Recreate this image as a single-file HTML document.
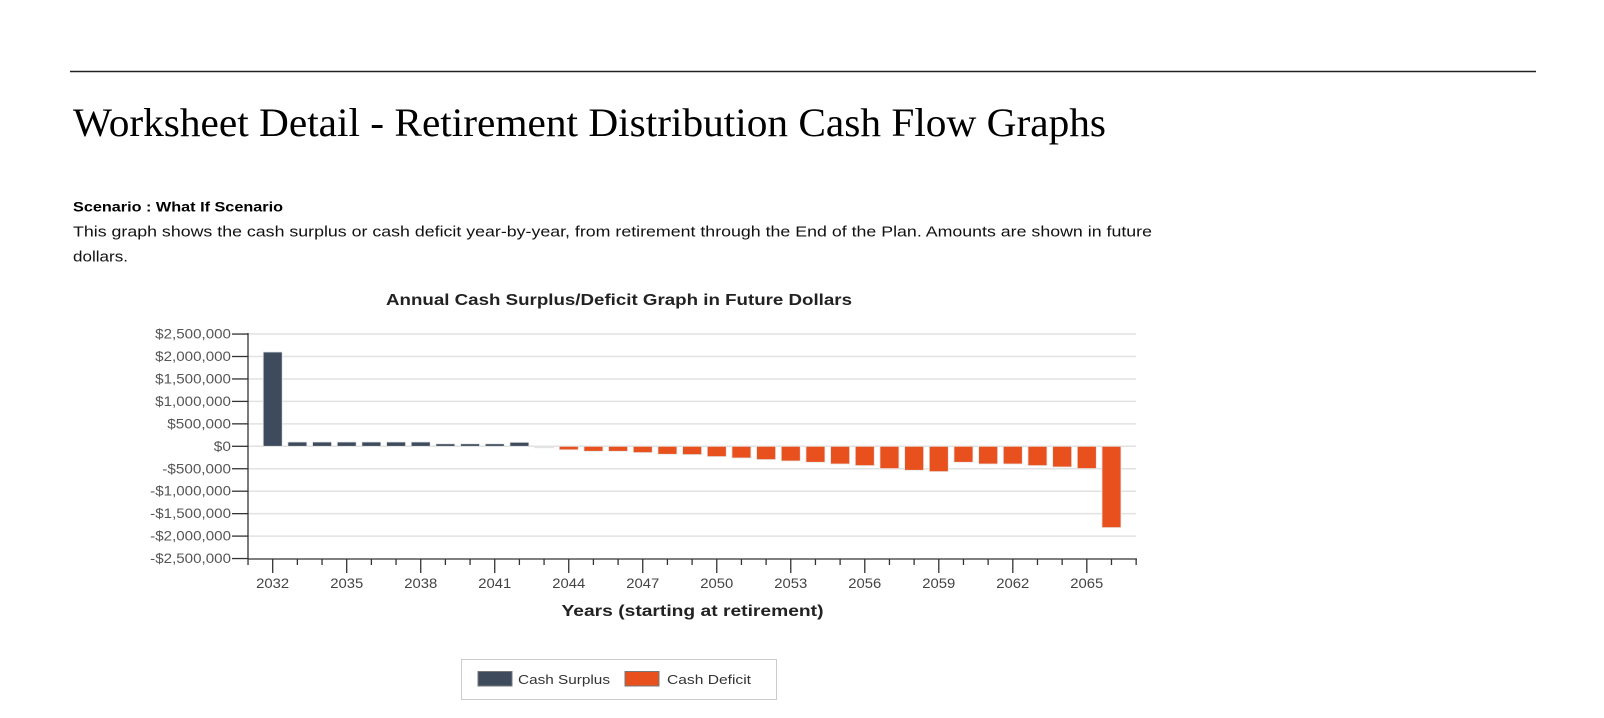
<!DOCTYPE html>
<html><head><meta charset="utf-8"><style>
html,body{margin:0;padding:0;background:#fff;}
svg{display:block;}
text{font-family:"Liberation Sans",sans-serif;}
</style></head><body>
<svg width="1604" height="718" viewBox="0 0 1604 718" xmlns="http://www.w3.org/2000/svg">
<line x1="70" y1="71.5" x2="1536" y2="71.5" stroke="#222" stroke-width="1.5"/>
<text x="73" y="136" style="font-family:'Liberation Serif',serif" font-size="40" fill="#000" textLength="1033" lengthAdjust="spacingAndGlyphs">Worksheet Detail - Retirement Distribution Cash Flow Graphs</text>
<text x="73" y="211.5" font-size="14" font-weight="bold" fill="#000" textLength="210" lengthAdjust="spacingAndGlyphs">Scenario : What If Scenario</text>
<text x="73" y="236.5" font-size="15" fill="#111" textLength="1079" lengthAdjust="spacingAndGlyphs">This graph shows the cash surplus or cash deficit year-by-year, from retirement through the End of the Plan. Amounts are shown in future</text>
<text x="73" y="261.5" font-size="15" fill="#111" textLength="55" lengthAdjust="spacingAndGlyphs">dollars.</text>
<text x="386" y="305" font-size="16" font-weight="bold" fill="#222" textLength="466" lengthAdjust="spacingAndGlyphs">Annual Cash Surplus/Deficit Graph in Future Dollars</text>
<g id="grid" stroke="#e2e2e2" stroke-width="1.5"></g>
<g id="ylab"></g>
<g id="bars"></g>
<line x1="248" y1="333" x2="248" y2="559" stroke="#333" stroke-width="1.3"/>
<line x1="248" y1="559" x2="1137" y2="559" stroke="#333" stroke-width="1.3"/>
<g id="xt"></g>
<text x="692.5" y="616" text-anchor="middle" font-size="16" font-weight="bold" fill="#222" textLength="262" lengthAdjust="spacingAndGlyphs">Years (starting at retirement)</text>
<rect x="461.5" y="659.5" width="315" height="40" fill="#fff" stroke="#ccc" stroke-width="1"/>
<rect x="478" y="671.5" width="34" height="14.5" fill="#3d4b5c" stroke="#777" stroke-width="1"/>
<text x="518" y="684" font-size="13" fill="#333" textLength="92" lengthAdjust="spacingAndGlyphs">Cash Surplus</text>
<rect x="625" y="671.5" width="34" height="14.5" fill="#e8501e" stroke="#777" stroke-width="1"/>
<text x="667" y="684" font-size="13" fill="#333" textLength="84" lengthAdjust="spacingAndGlyphs">Cash Deficit</text>
</svg>
<script>
(function(){
var NS="http://www.w3.org/2000/svg";
function el(p,t,a,txt){var e=document.createElementNS(NS,t);for(var k in a)e.setAttribute(k,a[k]);if(txt!==undefined)e.textContent=txt;document.getElementById(p).appendChild(e);}
var zero=446.3,step=22.45;
var labs=["$2,500,000","$2,000,000","$1,500,000","$1,000,000","$500,000","$0","-$500,000","-$1,000,000","-$1,500,000","-$2,000,000","-$2,500,000"];
for(var i=0;i<11;i++){var yy=zero+(i-5)*step;
 if(i<10) el("grid","line",{x1:248,y1:yy,x2:1136,y2:yy});
 el("ylab","line",{x1:232,y1:yy,x2:248,y2:yy,stroke:"#333","stroke-width":1.3});
 var s=labs[i];var w=0;for(var j=0;j<s.length;j++){var c=s[j];w+=(c==","?3.5:(c=="-"?5:8.6));}
 el("ylab","text",{x:231,y:yy+4.5,"text-anchor":"end","font-size":13.5,fill:"#555",textLength:w.toFixed(1),lengthAdjust:"spacingAndGlyphs"},s);
}
var h={2032:94.3,2033:4.3,2034:4.3,2035:4.3,2036:4.3,2037:4.3,2038:4.3,2039:2.5,2040:2.5,2041:2.5,2042:4,2043:-1.5,
2044:-3.5,2045:-5,2046:-5,2047:-6.3,2048:-8,2049:-8.3,2050:-10.3,2051:-11.7,2052:-13.3,2053:-14.7,2054:-16,2055:-17.7,2056:-19.3,2057:-22.3,2058:-24,2059:-25.3,2060:-16,2061:-17.7,2062:-17.7,2063:-19.3,2064:-20.7,2065:-22.3,2066:-81.3};
for(var yr=2032;yr<=2066;yr++){var cx=272.7+(yr-2032)*24.67;var v=h[yr];
 var col=yr==2043?"#dcdcdc":(v>0?"#3d4b5c":"#e8501e");
 var ty=v>0?zero-v:zero, hh=Math.abs(v);
 el("bars","rect",{x:cx-9.5,y:ty,width:19,height:hh,fill:col,stroke:"#e6e6e6","stroke-width":0.8});
}
for(var yr2=2031;yr2<=2067;yr2++){var x=272.7+(yr2-2032)*24.67;var major=(yr2-2032)%3==0&&yr2>=2032&&yr2<=2065;
 el("xt","line",{x1:x,y1:559,x2:x,y2:major?573:565,stroke:"#333","stroke-width":1.3});
 if(major) el("xt","text",{x:x,y:588,"text-anchor":"middle","font-size":13.5,fill:"#444",textLength:33,lengthAdjust:"spacingAndGlyphs"},""+yr2);
}
})();
</script>
</body></html>
